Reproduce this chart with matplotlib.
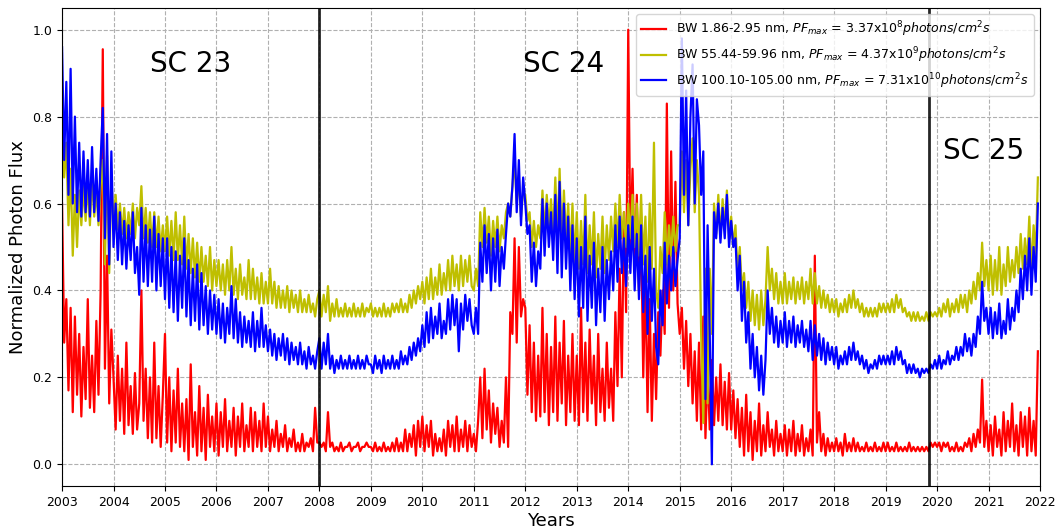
import numpy as np
import matplotlib
matplotlib.use("Agg")
import matplotlib.pyplot as plt

years = list(range(2003, 2022))
pts_per_year = 24

# Normalized photon flux, 24 samples per year (rows = years 2003..2021)
red = [
    [0.60,0.28,0.38,0.17,0.36,0.12,0.34,0.16,0.30,0.11,0.27,0.15,0.38,0.13,0.25,0.12,0.33,0.16,0.40,0.955,0.22,0.48,0.14,0.31],
    [0.20,0.08,0.25,0.10,0.22,0.07,0.28,0.09,0.18,0.07,0.21,0.08,0.14,0.40,0.10,0.22,0.06,0.20,0.05,0.28,0.06,0.18,0.04,0.16],
    [0.30,0.05,0.20,0.03,0.17,0.05,0.22,0.04,0.14,0.03,0.15,0.01,0.23,0.04,0.12,0.02,0.18,0.03,0.13,0.01,0.16,0.04,0.11,0.03],
    [0.14,0.02,0.12,0.04,0.15,0.03,0.10,0.04,0.13,0.02,0.11,0.04,0.14,0.03,0.09,0.04,0.13,0.03,0.12,0.04,0.10,0.03,0.14,0.04],
    [0.11,0.03,0.08,0.04,0.10,0.03,0.07,0.04,0.09,0.03,0.06,0.04,0.08,0.03,0.05,0.03,0.07,0.03,0.05,0.04,0.06,0.03,0.13,0.05],
    [0.05,0.04,0.05,0.03,0.12,0.04,0.05,0.03,0.04,0.03,0.05,0.03,0.04,0.04,0.05,0.03,0.04,0.04,0.05,0.03,0.04,0.04,0.05,0.04],
    [0.04,0.03,0.05,0.03,0.04,0.03,0.05,0.03,0.04,0.03,0.05,0.03,0.06,0.03,0.05,0.03,0.08,0.03,0.07,0.04,0.09,0.02,0.10,0.04],
    [0.11,0.03,0.09,0.04,0.10,0.02,0.07,0.03,0.06,0.03,0.08,0.02,0.10,0.04,0.09,0.03,0.11,0.03,0.08,0.04,0.10,0.03,0.09,0.04],
    [0.07,0.03,0.10,0.20,0.06,0.22,0.08,0.17,0.05,0.14,0.07,0.13,0.04,0.10,0.05,0.20,0.04,0.35,0.30,0.52,0.28,0.50,0.34,0.38],
    [0.36,0.16,0.32,0.12,0.28,0.10,0.25,0.11,0.36,0.12,0.30,0.09,0.27,0.12,0.34,0.10,0.28,0.14,0.33,0.09,0.25,0.12,0.30,0.10],
    [0.25,0.09,0.36,0.12,0.28,0.10,0.31,0.14,0.25,0.09,0.30,0.12,0.22,0.10,0.28,0.13,0.22,0.10,0.35,0.18,0.45,0.20,0.58,0.35],
    [1.00,0.50,0.68,0.45,0.62,0.40,0.55,0.20,0.43,0.12,0.38,0.10,0.30,0.15,0.35,0.25,0.40,0.30,0.83,0.36,0.72,0.40,0.65,0.37],
    [0.30,0.36,0.22,0.33,0.18,0.30,0.14,0.26,0.10,0.28,0.08,0.34,0.06,0.22,0.08,0.24,0.09,0.20,0.10,0.23,0.09,0.19,0.08,0.21],
    [0.08,0.17,0.06,0.15,0.04,0.13,0.02,0.16,0.03,0.12,0.01,0.10,0.03,0.14,0.02,0.09,0.03,0.12,0.04,0.08,0.02,0.10,0.03,0.07],
    [0.03,0.09,0.02,0.08,0.03,0.10,0.02,0.07,0.03,0.09,0.02,0.06,0.03,0.08,0.02,0.48,0.05,0.12,0.03,0.07,0.02,0.06,0.03,0.05],
    [0.03,0.06,0.03,0.05,0.02,0.07,0.03,0.05,0.03,0.06,0.03,0.05,0.03,0.04,0.03,0.05,0.03,0.04,0.03,0.05,0.03,0.04,0.03,0.05],
    [0.03,0.05,0.03,0.04,0.03,0.05,0.03,0.04,0.03,0.04,0.03,0.05,0.03,0.04,0.03,0.04,0.03,0.04,0.03,0.04,0.03,0.05,0.04,0.05],
    [0.04,0.05,0.03,0.05,0.04,0.05,0.03,0.04,0.03,0.05,0.03,0.04,0.03,0.05,0.04,0.06,0.03,0.07,0.04,0.08,0.05,0.195,0.04,0.10],
    [0.03,0.09,0.02,0.11,0.04,0.08,0.02,0.12,0.03,0.10,0.04,0.14,0.03,0.09,0.02,0.12,0.04,0.11,0.02,0.13,0.03,0.10,0.02,0.26],
]

yellow = [
    [0.80,0.66,0.74,0.55,0.68,0.48,0.62,0.50,0.63,0.55,0.64,0.56,0.65,0.55,0.66,0.57,0.63,0.55,0.64,0.70,0.46,0.71,0.44,0.66],
    [0.55,0.62,0.54,0.60,0.53,0.59,0.52,0.58,0.53,0.60,0.52,0.59,0.55,0.64,0.52,0.59,0.51,0.58,0.50,0.58,0.50,0.57,0.49,0.55],
    [0.49,0.57,0.48,0.56,0.47,0.58,0.47,0.55,0.46,0.57,0.45,0.53,0.44,0.52,0.43,0.51,0.42,0.50,0.42,0.48,0.41,0.50,0.40,0.47],
    [0.41,0.47,0.40,0.46,0.39,0.47,0.40,0.50,0.39,0.45,0.38,0.46,0.39,0.43,0.38,0.47,0.38,0.45,0.38,0.43,0.37,0.44,0.37,0.42],
    [0.37,0.45,0.37,0.42,0.36,0.41,0.36,0.40,0.36,0.41,0.35,0.40,0.36,0.39,0.35,0.40,0.35,0.38,0.35,0.39,0.35,0.37,0.34,0.38],
    [0.40,0.34,0.39,0.35,0.41,0.33,0.37,0.34,0.38,0.34,0.36,0.34,0.37,0.34,0.36,0.34,0.37,0.34,0.36,0.34,0.37,0.34,0.36,0.35],
    [0.37,0.34,0.36,0.34,0.36,0.34,0.37,0.34,0.36,0.34,0.37,0.35,0.37,0.35,0.38,0.35,0.37,0.35,0.39,0.36,0.40,0.37,0.41,0.38],
    [0.42,0.37,0.43,0.38,0.45,0.38,0.43,0.39,0.46,0.39,0.44,0.40,0.47,0.40,0.48,0.41,0.46,0.40,0.48,0.41,0.47,0.42,0.48,0.41],
    [0.40,0.45,0.41,0.58,0.50,0.59,0.51,0.57,0.48,0.56,0.50,0.57,0.49,0.55,0.52,0.58,0.60,0.57,0.64,0.70,0.60,0.66,0.57,0.63],
    [0.62,0.56,0.58,0.50,0.56,0.50,0.55,0.52,0.63,0.53,0.62,0.55,0.61,0.53,0.66,0.52,0.68,0.51,0.63,0.52,0.60,0.48,0.60,0.46],
    [0.58,0.45,0.56,0.46,0.62,0.44,0.55,0.46,0.58,0.43,0.53,0.45,0.57,0.44,0.55,0.47,0.57,0.49,0.60,0.50,0.62,0.52,0.58,0.50],
    [0.60,0.52,0.62,0.50,0.60,0.48,0.62,0.46,0.57,0.42,0.60,0.45,0.74,0.40,0.36,0.50,0.44,0.58,0.46,0.55,0.48,0.57,0.49,0.55],
    [0.55,0.72,0.58,0.70,0.55,0.68,0.75,0.58,0.70,0.62,0.30,0.095,0.45,0.14,0.45,0.30,0.60,0.53,0.62,0.52,0.61,0.54,0.63,0.52],
    [0.57,0.50,0.55,0.44,0.50,0.40,0.44,0.36,0.42,0.33,0.40,0.32,0.39,0.31,0.40,0.32,0.38,0.50,0.40,0.45,0.38,0.44,0.37,0.42],
    [0.37,0.44,0.37,0.42,0.38,0.43,0.37,0.42,0.38,0.43,0.37,0.42,0.38,0.45,0.37,0.44,0.37,0.41,0.36,0.40,0.36,0.39,0.35,0.38],
    [0.35,0.38,0.34,0.37,0.35,0.38,0.35,0.39,0.36,0.40,0.36,0.38,0.35,0.37,0.34,0.36,0.34,0.36,0.34,0.36,0.34,0.37,0.35,0.37],
    [0.35,0.37,0.35,0.38,0.35,0.39,0.36,0.38,0.35,0.36,0.34,0.35,0.33,0.35,0.33,0.35,0.33,0.34,0.33,0.35,0.33,0.35,0.34,0.35],
    [0.34,0.36,0.34,0.37,0.35,0.38,0.34,0.37,0.35,0.38,0.35,0.39,0.36,0.39,0.35,0.40,0.37,0.42,0.38,0.44,0.40,0.51,0.41,0.47],
    [0.40,0.48,0.39,0.47,0.40,0.50,0.39,0.46,0.41,0.50,0.42,0.47,0.43,0.50,0.44,0.53,0.45,0.52,0.46,0.57,0.44,0.55,0.48,0.66],
]

blue = [
    [0.96,0.70,0.88,0.62,0.91,0.60,0.80,0.58,0.74,0.57,0.72,0.58,0.70,0.57,0.73,0.58,0.68,0.56,0.70,0.82,0.52,0.76,0.46,0.72],
    [0.50,0.60,0.47,0.58,0.46,0.56,0.45,0.55,0.47,0.58,0.44,0.50,0.39,0.59,0.42,0.55,0.41,0.54,0.42,0.57,0.40,0.53,0.41,0.52],
    [0.38,0.52,0.36,0.50,0.35,0.49,0.33,0.48,0.36,0.52,0.34,0.47,0.32,0.45,0.33,0.46,0.31,0.44,0.32,0.41,0.30,0.40,0.31,0.39],
    [0.30,0.38,0.29,0.37,0.28,0.36,0.30,0.41,0.29,0.38,0.28,0.35,0.27,0.34,0.28,0.33,0.27,0.35,0.26,0.33,0.27,0.36,0.27,0.32],
    [0.26,0.31,0.25,0.30,0.24,0.29,0.25,0.30,0.24,0.29,0.23,0.28,0.24,0.27,0.23,0.28,0.23,0.26,0.22,0.27,0.23,0.25,0.22,0.26],
    [0.29,0.22,0.28,0.23,0.30,0.22,0.25,0.21,0.24,0.22,0.25,0.22,0.24,0.22,0.25,0.22,0.24,0.22,0.25,0.22,0.24,0.22,0.25,0.23],
    [0.23,0.21,0.25,0.22,0.24,0.21,0.25,0.22,0.24,0.22,0.25,0.22,0.24,0.22,0.26,0.23,0.25,0.23,0.27,0.24,0.28,0.25,0.29,0.26],
    [0.32,0.27,0.35,0.28,0.36,0.29,0.34,0.30,0.37,0.29,0.33,0.30,0.38,0.31,0.39,0.32,0.38,0.26,0.37,0.31,0.39,0.33,0.38,0.32],
    [0.30,0.36,0.30,0.51,0.42,0.55,0.44,0.53,0.40,0.52,0.42,0.54,0.41,0.50,0.45,0.53,0.60,0.57,0.64,0.76,0.58,0.70,0.55,0.66],
    [0.60,0.53,0.55,0.42,0.51,0.41,0.49,0.45,0.61,0.48,0.60,0.50,0.58,0.47,0.62,0.44,0.65,0.43,0.60,0.45,0.57,0.40,0.55,0.38],
    [0.52,0.34,0.50,0.36,0.57,0.33,0.48,0.36,0.51,0.32,0.45,0.35,0.50,0.33,0.47,0.38,0.49,0.40,0.55,0.42,0.57,0.44,0.52,0.41],
    [0.55,0.44,0.57,0.40,0.53,0.38,0.55,0.35,0.48,0.30,0.50,0.33,0.45,0.27,0.23,0.40,0.32,0.51,0.37,0.48,0.40,0.50,0.41,0.47],
    [0.52,0.98,0.62,0.86,0.55,0.80,0.92,0.60,0.84,0.78,0.62,0.72,0.15,0.55,0.30,0.00,0.58,0.52,0.60,0.51,0.59,0.52,0.62,0.50],
    [0.56,0.50,0.52,0.40,0.48,0.33,0.42,0.28,0.35,0.22,0.30,0.20,0.27,0.17,0.25,0.16,0.24,0.40,0.30,0.36,0.28,0.34,0.27,0.33],
    [0.28,0.35,0.27,0.33,0.28,0.34,0.27,0.32,0.28,0.33,0.27,0.31,0.26,0.33,0.24,0.32,0.25,0.30,0.24,0.29,0.23,0.28,0.24,0.27],
    [0.23,0.27,0.22,0.25,0.23,0.26,0.23,0.27,0.24,0.28,0.24,0.26,0.23,0.25,0.22,0.24,0.21,0.23,0.22,0.24,0.22,0.25,0.23,0.25],
    [0.23,0.25,0.23,0.26,0.23,0.27,0.24,0.26,0.23,0.24,0.21,0.23,0.21,0.23,0.21,0.22,0.20,0.22,0.21,0.22,0.21,0.23,0.22,0.24],
    [0.22,0.25,0.22,0.24,0.23,0.26,0.23,0.25,0.24,0.27,0.24,0.27,0.25,0.30,0.26,0.29,0.25,0.30,0.27,0.34,0.30,0.42,0.33,0.36],
    [0.30,0.36,0.29,0.35,0.30,0.37,0.29,0.33,0.30,0.38,0.31,0.36,0.33,0.40,0.35,0.45,0.38,0.48,0.40,0.52,0.39,0.50,0.42,0.60],
]

labels = [
    r"BW 1.86-2.95 nm, $PF_{max}$ = 3.37x$10^{8}$$photons/cm^{2}s$",
    r"BW 55.44-59.96 nm, $PF_{max}$ = 4.37x$10^{9}$$photons/cm^{2}s$",
    r"BW 100.10-105.00 nm, $PF_{max}$ = 7.31x$10^{10}$$photons/cm^{2}s$",
]
cycle_names = ["SC 23", "SC 24", "SC 25"]
cycle_text_pos = [(2005.5, 0.92), (2012.75, 0.92), (2020.9, 0.72)]
cycle_boundaries = [2008.0, 2019.85]
xticks = list(range(2003, 2023))

def series_xy(rows):
    t = []
    v = []
    for yr, row in zip(years, rows):
        for i, val in enumerate(row):
            t.append(yr + i / pts_per_year)
            v.append(val)
    return np.array(t), np.array(v)

fig = plt.figure(figsize=(10.55, 5.31), dpi=100)
ax = fig.add_axes([0.0588, 0.0847, 0.927, 0.9003])

for rows, col, lab in zip([red, yellow, blue], ['r', 'y', 'b'], labels):
    t, v = series_xy(rows)
    ax.plot(t, v, color=col, lw=1.6, label=lab)

for xb in cycle_boundaries:
    ax.axvline(xb, color='k', lw=2, alpha=0.85)

for name, (xp, yp) in zip(cycle_names, cycle_text_pos):
    ax.text(xp, yp, name, fontsize=20, ha='center', va='center')

ax.set_xlim(2003, 2022)
ax.set_ylim(-0.05, 1.05)
ax.set_xticks(xticks)
ax.set_yticks([0.0, 0.2, 0.4, 0.6, 0.8, 1.0])
ax.tick_params(labelsize=9)
ax.grid(True, linestyle='--', color='#b0b0b0', lw=0.8)
ax.set_xlabel("Years", fontsize=13, labelpad=2)
ax.set_ylabel("Normalized Photon Flux", fontsize=13)
ax.legend(loc='upper right', fontsize=9)

fig.savefig("out.png", dpi=100)
